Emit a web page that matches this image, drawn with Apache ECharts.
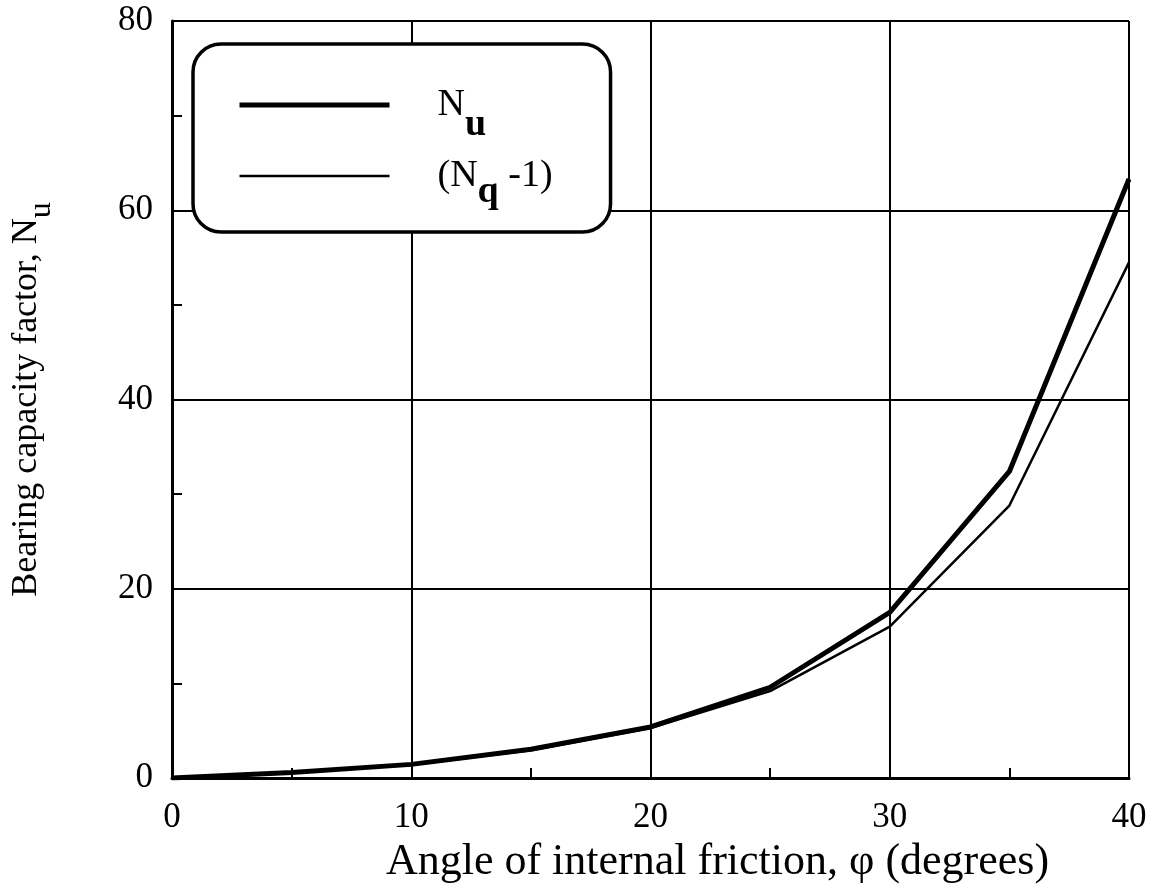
<!DOCTYPE html>
<html>
<head>
<meta charset="utf-8">
<title>Bearing capacity factor vs friction angle</title>
<script src="https://cdn.jsdelivr.net/npm/echarts@6/dist/echarts.min.js"></script>
<style>
  html, body { margin: 0; padding: 0; background: #fff; }
  #chart { width: 1156px; height: 889px; }
</style>
</head>
<body>
<div id="chart"></div>
<script>
// Angle of internal friction (degrees)
const phi = [0, 5, 10, 15, 20, 25, 30, 35, 40];
// Bearing capacity factor N_u
const nu = [0, 0.6, 1.45, 3.05, 5.4, 9.6, 17.5, 32.4, 63.3];
// (N_q - 1)
const nqMinus1 = [0, 0.57, 1.4, 2.95, 5.3, 9.2, 16.0, 28.8, 54.5];

const xTicks = { min: 0, max: 40, interval: 10 };
const yTicks = { min: 0, max: 80, interval: 20 };

const FONT = '"Liberation Serif", "Times New Roman", serif';

const chart = echarts.init(document.getElementById('chart'), null, { renderer: 'canvas' });

const axisCommon = {
  axisLine: { show: true, lineStyle: { color: '#000', width: 3 } },
  axisTick: { show: true, inside: true, length: 10, lineStyle: { color: '#000', width: 2 } },
  minorTick: { show: true, splitNumber: 2, length: 10, lineStyle: { color: '#000', width: 2 } },
  splitLine: { show: true, lineStyle: { color: '#000', width: 2 } },
  axisLabel: { color: '#000', fontFamily: FONT, fontSize: 35 }
};

chart.setOption({
  backgroundColor: '#fff',
  animation: false,
  grid: { left: 172, right: 27, top: 21, bottom: 109 },
  legend: {
    orient: 'vertical',
    left: 193,
    top: 44,
    padding: [42, 58, 21, 44],
    itemWidth: 150,
    itemHeight: 2,
    itemGap: 13,
    backgroundColor: '#fff',
    borderColor: '#000',
    borderWidth: 3.5,
    borderRadius: 28,
    z: 10,
    textStyle: {
      color: '#000',
      fontFamily: FONT,
      fontSize: 38,
      rich: {
        gap: { width: 43 },
        n: { fontFamily: FONT, fontSize: 38, color: '#000' },
        sb: { fontFamily: FONT, fontSize: 38, fontWeight: 'bold', color: '#000', padding: [40, 0, 0, 0] },
        sq: { fontFamily: FONT, fontSize: 38, fontWeight: 'bold', color: '#000', padding: [32, 0, 0, 0] }
      }
    },
    formatter: function (name) {
      if (name === 'Nu') return '{gap|}{n|N}{sb|u}';
      return '{gap|}{n|(N}{sq|q}{n| -1)}';
    },
    data: [
      { name: 'Nu', lineStyle: { color: '#000', width: 5 }, itemStyle: { opacity: 0 } },
      { name: 'Nq-1', lineStyle: { color: '#000', width: 2.5 }, itemStyle: { opacity: 0 } }
    ]
  },
  xAxis: Object.assign({}, axisCommon, {
    type: 'value',
    min: xTicks.min,
    max: xTicks.max,
    interval: xTicks.interval,
    name: 'Angle of internal friction, \u03c6 (degrees)',
    nameLocation: 'middle',
    nameGap: 54,
    nameTextStyle: { color: '#000', fontFamily: FONT, fontSize: 44, padding: [0, 0, 0, 134] },
    axisLabel: Object.assign({}, axisCommon.axisLabel, { margin: 22 })
  }),
  yAxis: Object.assign({}, axisCommon, {
    type: 'value',
    min: yTicks.min,
    max: yTicks.max,
    interval: yTicks.interval,
    name: '{t|Bearing capacity factor, N}{s|u}',
    nameLocation: 'middle',
    nameRotate: 90,
    nameGap: 114,
    nameTextStyle: {
      color: '#000', fontFamily: FONT, fontSize: 36,
      rich: {
        t: { fontFamily: FONT, fontSize: 36, color: '#000' },
        s: { fontFamily: FONT, fontSize: 32, color: '#000', padding: [30, 0, 0, 0] }
      }
    },
    axisLabel: Object.assign({}, axisCommon.axisLabel, { margin: 19 })
  }),
  series: [
    {
      name: 'Nu',
      type: 'line',
      data: phi.map((p, i) => [p, nu[i]]),
      symbol: 'none',
      smooth: false,
      color: '#000',
      lineStyle: { color: '#000', width: 5 },
      z: 5
    },
    {
      name: 'Nq-1',
      type: 'line',
      data: phi.map((p, i) => [p, nqMinus1[i]]),
      symbol: 'none',
      smooth: false,
      color: '#000',
      lineStyle: { color: '#000', width: 2.5 },
      z: 4
    }
  ]
});
</script>
</body>
</html>
